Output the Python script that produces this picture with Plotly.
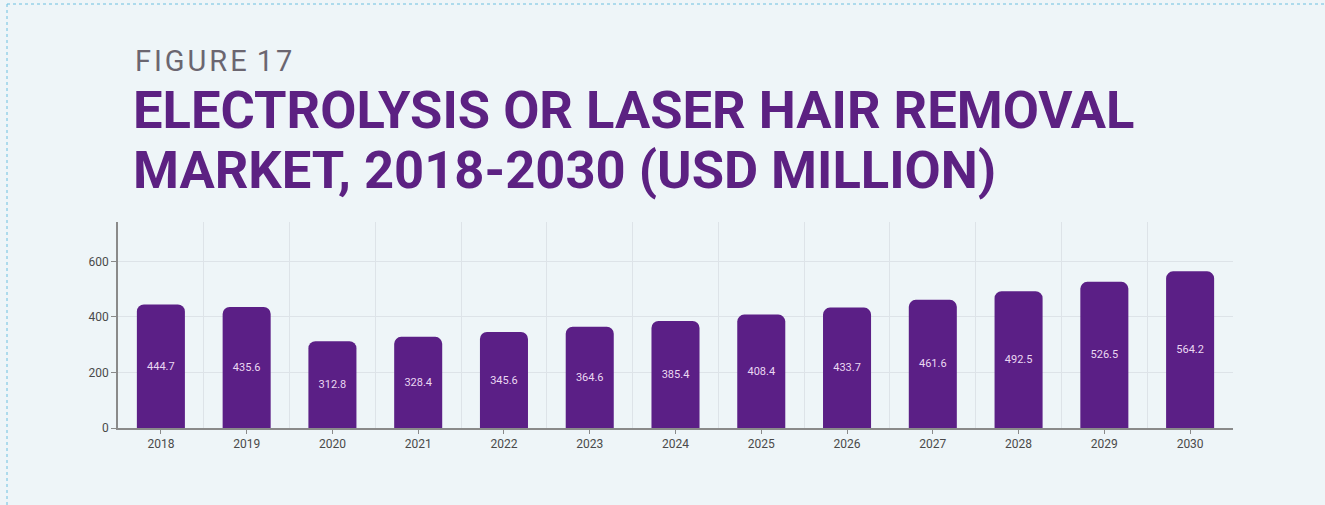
import plotly.graph_objects as go

years = [2018, 2019, 2020, 2021, 2022, 2023, 2024, 2025, 2026, 2027, 2028, 2029, 2030]
values = [444.7, 435.6, 312.8, 328.4, 345.6, 364.6, 385.4, 408.4, 433.7, 461.6, 492.5, 526.5, 564.2]
y_ticks = [0, 200, 400, 600]

purple = "#5b1f86"
bg = "#eef5f8"

fig = go.Figure()
fig.add_trace(
    go.Bar(
        x=years,
        y=values,
        width=0.56,
        marker=dict(color=purple, line=dict(width=0)),
        text=[f"{v:.1f}" for v in values],
        textposition="inside",
        insidetextanchor="middle",
        textangle=0,
        textfont=dict(color="#ead8f2", size=11, family="Roboto, sans-serif"),
        hoverinfo="x+y",
    )
)

hs = "\u200a"
fig_label = hs.join("FIGURE") + " " + hs + hs.join("17")
title_font = dict(family="Roboto, sans-serif", size=52.5, color="#5c2182", weight="bold")

fig.update_layout(
    width=1325,
    height=505,
    paper_bgcolor=bg,
    plot_bgcolor=bg,
    showlegend=False,
    barcornerradius=7,
    margin=dict(l=118, r=92, t=222, b=77),
    font=dict(family="Roboto, sans-serif", color="#555555"),
    xaxis=dict(
        range=[2017.5, 2030.5],
        tickvals=years,
        ticktext=[str(y) for y in years],
        showgrid=False,
        ticks="outside",
        ticklen=4,
        tickcolor="#8a8a8a",
        tickfont=dict(size=12, color="#4a4a4a"),
        showline=True,
        linecolor="#8a8a8a",
        linewidth=1.5,
        zeroline=False,
        minor=dict(tick0=2017.5, dtick=1, showgrid=True, gridcolor="#dde3e8", gridwidth=1),
    ),
    yaxis=dict(
        range=[0, 742],
        tickvals=y_ticks,
        showgrid=True,
        gridcolor="#dde3e8",
        ticks="outside",
        ticklen=5,
        tickcolor="#8a8a8a",
        tickfont=dict(size=12, color="#4a4a4a"),
        showline=True,
        linecolor="#8a8a8a",
        linewidth=1.5,
        zeroline=False,
    ),
    annotations=[
        dict(
            text=fig_label,
            xref="paper", yref="paper",
            x=(133 - 118) / 1115, y=1 + (222 - 42) / 206,
            xanchor="left", yanchor="top",
            showarrow=False,
            font=dict(family="Roboto, sans-serif", size=29, color="#6b6670"),
        ),
        dict(
            text="ELECTROLYSIS OR LASER HAIR REMOVAL",
            xref="paper", yref="paper",
            x=(131 - 118) / 1115, y=1 + (222 - 77) / 206,
            xanchor="left", yanchor="top",
            showarrow=False,
            font=title_font,
        ),
        dict(
            text="MARKET, 2018-2030 (USD MILLION)",
            xref="paper", yref="paper",
            x=(131 - 118) / 1115, y=1 + (222 - 137) / 206,
            xanchor="left", yanchor="top",
            showarrow=False,
            font=title_font,
        ),
    ],
    shapes=[
        dict(type="line", xref="paper", yref="paper",
             x0=(7 - 118) / 1115, x1=(1325 - 118) / 1115,
             y0=1 + (222 - 4) / 206, y1=1 + (222 - 4) / 206,
             line=dict(color="#6cc0e0", width=1, dash="dot")),
        dict(type="line", xref="paper", yref="paper",
             x0=(7 - 118) / 1115, x1=(7 - 118) / 1115,
             y0=1 + (222 - 4) / 206, y1=1 - (505 - 222) / 206,
             line=dict(color="#6cc0e0", width=1, dash="dot")),
    ],
)

fig.write_html(
    "out.html",
    config={"displayModeBar": False},
    post_script="document.body.style.margin='0';",
)
